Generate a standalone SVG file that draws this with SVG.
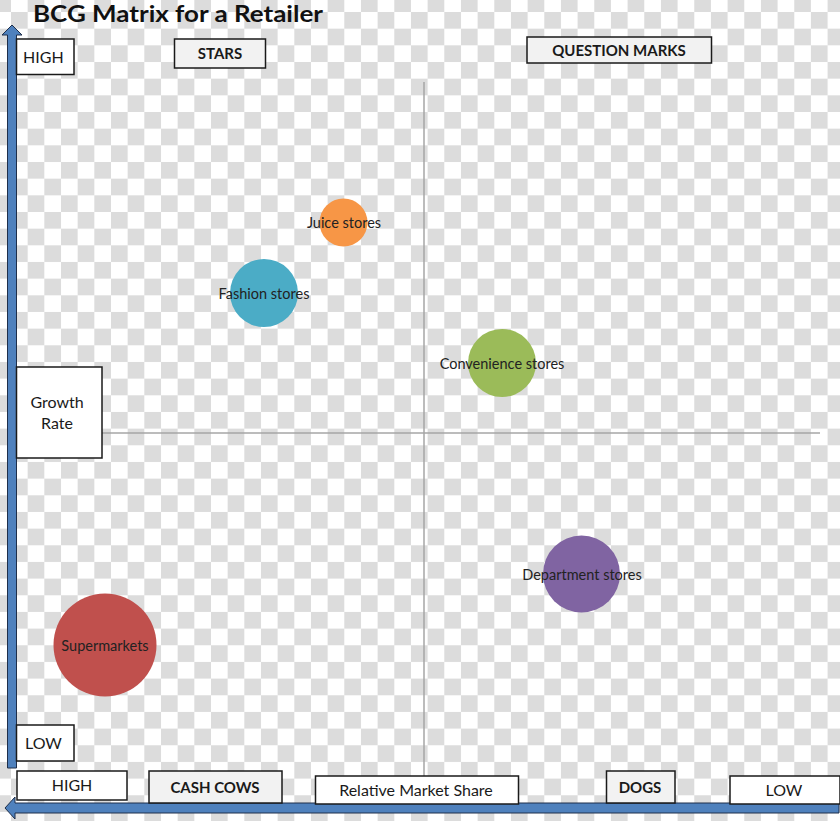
<svg xmlns="http://www.w3.org/2000/svg" width="840" height="821" viewBox="0 0 840 821">
<defs>
<pattern id="checker" x="11" y="12" width="33.33" height="33.33" patternUnits="userSpaceOnUse">
<rect width="33.33" height="33.33" fill="#ffffff"/>
<rect width="16.67" height="16.67" fill="#dcdcdc"/>
<rect x="16.67" y="16.67" width="16.67" height="16.67" fill="#dcdcdc"/>
</pattern>
<style>
.box{fill:#ffffff;stroke:#1a1a1a;stroke-width:1.5}
.qbox{fill:#f2f2f2;stroke:#1a1a1a;stroke-width:1.5}
.lbl{font-family:Lato,"Liberation Sans",sans-serif;font-size:16px;fill:#1a1a1a}
.qlbl{font-family:Lato,"Liberation Sans",sans-serif;font-size:15px;font-weight:bold;fill:#1a1a1a}
.bub{font-family:Lato,"Liberation Sans",sans-serif;font-size:14.5px;fill:#222222;text-anchor:middle}
.grid{stroke:#a6a6a6;stroke-width:1.5;fill:none}
.axis{fill:#4f81bd;stroke:#1f2f4a;stroke-width:1}
</style>
</defs>
<rect width="840" height="821" fill="url(#checker)"/>
<text x="33" y="22" font-family="Lato,'Liberation Sans',sans-serif" font-size="23" font-weight="bold" fill="#111111" textLength="290" lengthAdjust="spacingAndGlyphs">BCG Matrix for a Retailer</text>
<g id="connectors">
<line class="grid" x1="424" y1="82" x2="424" y2="776"/>
<line class="grid" x1="102" y1="433" x2="820" y2="433"/>
<path class="axis" d="M12 25 L22 35 L16.5 35 L16.5 768 L7.5 768 L7.5 35 L2 35 Z"/>
<path class="axis" d="M5 808 L15 797 L15 803 L839 803 L839 813 L15 813 L15 819 Z"/>
</g>
<g id="high-top"><rect class="box" x="16.5" y="39" width="57.5" height="35.5"/><text class="lbl" x="23" y="63">HIGH</text></g>
<g id="stars"><rect class="qbox" x="174.5" y="39" width="91" height="29"/><text class="qlbl" x="220" y="59" text-anchor="middle">STARS</text></g>
<g id="question-marks"><rect class="qbox" x="527" y="37" width="184.5" height="26"/><text class="qlbl" x="619" y="56" text-anchor="middle">QUESTION MARKS</text></g>
<g id="growth-rate"><rect class="box" x="16.5" y="367" width="85.5" height="91"/><text class="lbl" x="57" y="408" text-anchor="middle">Growth</text><text class="lbl" x="57" y="429" text-anchor="middle">Rate</text></g>
<g id="low-left"><rect class="box" x="16.5" y="725" width="57.5" height="36"/><text class="lbl" x="25" y="749">LOW</text></g>
<g id="high-bottom"><rect class="box" x="17" y="771" width="110" height="29"/><text class="lbl" x="72" y="791" text-anchor="middle">HIGH</text></g>
<g id="cash-cows"><rect class="qbox" x="149" y="771" width="133" height="32"/><text class="qlbl" x="215" y="793" text-anchor="middle">CASH COWS</text></g>
<g id="relative-market-share"><rect class="box" x="315.5" y="776" width="203" height="28"/><text class="lbl" x="416" y="796" text-anchor="middle">Relative Market Share</text></g>
<g id="dogs"><rect class="qbox" x="606.5" y="771" width="68.5" height="32"/><text class="qlbl" x="640" y="793" text-anchor="middle">DOGS</text></g>
<g id="low-right"><rect class="box" x="730" y="776" width="110" height="28"/><text class="lbl" x="784" y="796" text-anchor="middle">LOW</text></g>
<g id="juice-stores"><circle cx="343.5" cy="222.5" r="24" fill="#f79646"/><text class="bub" x="344" y="228">Juice stores</text></g>
<g id="fashion-stores"><circle cx="264" cy="293" r="34" fill="#4bacc6"/><text class="bub" x="264" y="299">Fashion stores</text></g>
<g id="convenience-stores"><circle cx="502" cy="363" r="34" fill="#9bbb59"/><text class="bub" x="502" y="369">Convenience stores</text></g>
<g id="department-stores"><circle cx="581.5" cy="574" r="38.5" fill="#8064a2"/><text class="bub" x="582" y="580">Department stores</text></g>
<g id="supermarkets"><circle cx="105" cy="645" r="51.5" fill="#c0504d"/><text class="bub" x="105" y="651">Supermarkets</text></g>
</svg>
